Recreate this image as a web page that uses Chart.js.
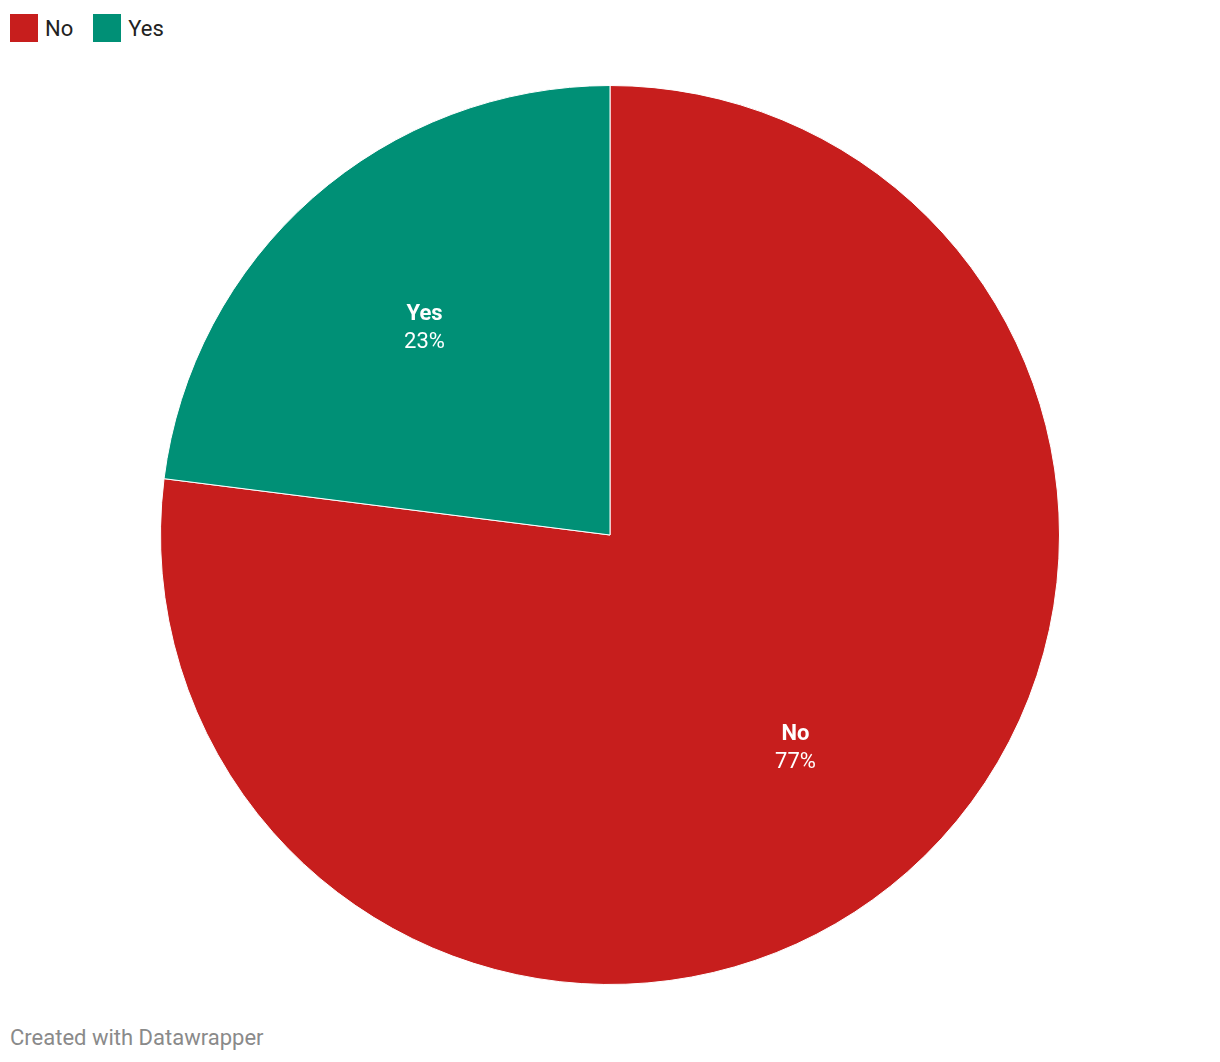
<!DOCTYPE html>
<html>
<head>
<meta charset="utf-8">
<script src="https://cdn.jsdelivr.net/npm/chart.js@4"></script>
<style>
  html, body { margin: 0; padding: 0; background: #fff; width: 1220px; height: 1062px; overflow: hidden; font-family: Roboto, sans-serif; }
  #legend { position: absolute; left: 10px; top: 14px; display: flex; align-items: center; font-size: 22px; color: #222; }
  .item { display: flex; align-items: center; margin-right: 20px; }
  .sw { width: 28px; height: 28px; margin-right: 7px; }
  #wrap { position: absolute; left: 160px; top: 85px; width: 900px; height: 900px; }
  #footer { position: absolute; left: 10px; top: 1025px; font-size: 22px; color: #8a8a8a; }
</style>
</head>
<body>
<div id="legend"></div>
<div id="wrap"><canvas id="c"></canvas></div>
<div id="footer">Created with Datawrapper</div>
<script>
const categories = ["No", "Yes"];
const values = [77, 23];
const colors = ["#c71e1d", "#009076"];

const legend = document.getElementById('legend');
categories.forEach((c, i) => {
  const d = document.createElement('div');
  d.className = 'item';
  d.innerHTML = '<div class="sw" style="background:' + colors[i] + '"></div><span>' + c + '</span>';
  legend.appendChild(d);
});

const labelPlugin = {
  id: 'sliceLabels',
  afterDatasetsDraw(chart) {
    const ctx = chart.ctx;
    const meta = chart.getDatasetMeta(0);
    meta.data.forEach((arc, i) => {
      const p = arc.getProps(['x', 'y', 'startAngle', 'endAngle', 'outerRadius']);
      const mid = (p.startAngle + p.endAngle) / 2;
      const r = p.outerRadius * 0.624;
      const x = p.x + Math.cos(mid) * r;
      const y = p.y + Math.sin(mid) * r + 3.5;
      ctx.save();
      ctx.fillStyle = '#fff';
      ctx.textAlign = 'center';
      ctx.textBaseline = 'middle';
      ctx.font = 'bold 22px Roboto';
      ctx.fillText(categories[i], x, y - 14);
      ctx.font = '22px Roboto';
      ctx.fillText(values[i] + '%', x, y + 14);
      ctx.restore();
    });
  }
};

new Chart(document.getElementById('c'), {
  type: 'pie',
  data: {
    labels: categories,
    datasets: [{ data: values, backgroundColor: colors, borderColor: '#fff', borderWidth: 1 }]
  },
  options: {
    responsive: true,
    maintainAspectRatio: false,
    animation: false,
    layout: { padding: 0 },
    plugins: { legend: { display: false }, tooltip: { enabled: false } }
  },
  plugins: [labelPlugin]
});
</script>
</body>
</html>
